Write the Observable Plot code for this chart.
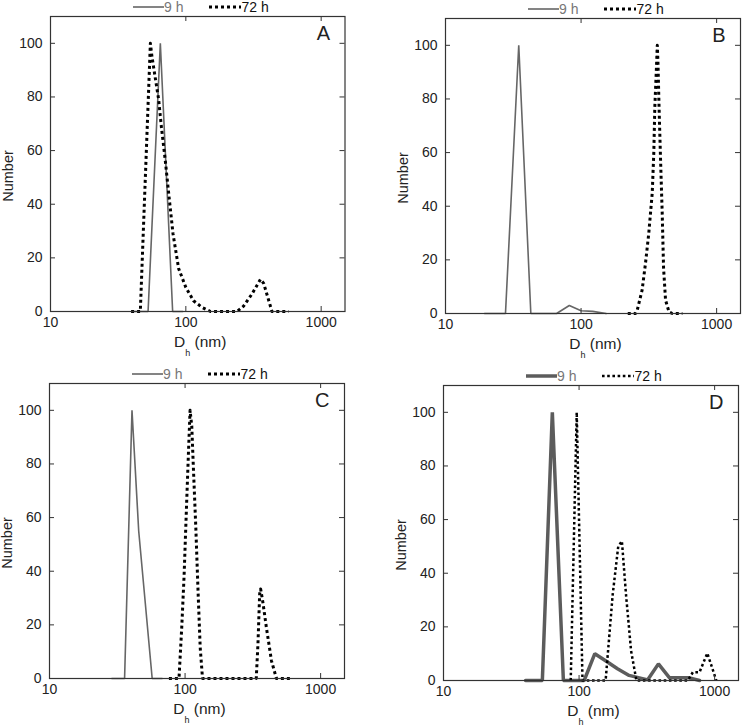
<!DOCTYPE html>
<html>
<head>
<meta charset="utf-8">
<script src="https://cdn.jsdelivr.net/npm/d3@7"></script>
<script src="https://cdn.jsdelivr.net/npm/@observablehq/plot@0.6"></script>
<style>
  body { margin: 0; background: #fff; }
  #root { position: relative; width: 743px; height: 726px; overflow: hidden; background: #fff;
          font-family: "Liberation Sans", Arial, sans-serif; color: #222; }
  .plotwrap { position: absolute; }
  .legend { position: absolute; display: flex; align-items: center; font-size: 14px; height: 14px;
            line-height: 14px; white-space: nowrap; }
  .legend svg { display: block; }
  .xl { position: absolute; width: 120px; text-align: center; font-size: 15.5px; line-height: 15px; color: #222; white-space: nowrap; }
  .xl .sub { font-size: 9px; position: relative; top: 9px; }
  .yl { position: absolute; font-size: 14.5px; line-height: 15px; white-space: nowrap; color: #222;
        transform: translate(-50%, -50%) rotate(-90deg); }
</style>
</head>
<body>
<div id="root"></div>
<script>
// ---- shared axis values ----
const yTicks = [0, 20, 40, 60, 80, 100];
const xTicks = [10, 100, 1000];
const xTickLabels = ["10", "100", "1000"];
const seriesNames = ["9 h", "72 h"];
const panelLetters = ["A", "B", "C", "D"];
const yTitle = "Number";

// ---- Panel A ----
const a9x  = [40, 52.6, 64.8, 79.9, 95];
const a9y  = [0, 0, 100, 0, 0];
const a72x = [39.4, 46.1, 54.7, 56.2, 59.5, 63, 65.9, 70.6, 74.7, 80.4, 88.5, 100, 114, 132, 152, 239, 267, 308, 356, 376, 433, 575];
const a72y = [0, 0, 100, 95, 87, 79, 69, 56, 44, 29, 16, 9, 4, 1.5, 0, 0, 2, 6.5, 12, 10.5, 0, 0];

// ---- Panel B ----
const b9x  = [19.4, 27.7, 34.7, 42.6, 66, 81.9, 100, 122, 153];
const b9y  = [0, 0, 100, 0, 0, 3, 1, 0.8, 0];
const b72x = [221, 252, 259, 282, 298.5, 316, 335, 344, 350, 360, 365, 369, 377, 386, 397, 406, 420, 445, 471, 559];
const b72y = [0, 0, 1, 8.7, 18.6, 30, 45, 60, 77, 92, 100, 94, 75, 57, 37, 17, 5, 0.6, 0, 0];

// ---- Panel C ----
const c9x  = [28.8, 35.8, 40.6, 45.5, 57.2, 67.8];
const c9y  = [0, 0, 100, 55, 0, 0];
const c72x = [76, 90.2, 94.5, 98.3, 102.3, 105.9, 108.9, 112.1, 115.3, 120.1, 124.9, 129.3, 134.5, 335, 345, 355, 361, 376, 398, 434, 472, 593];
const c72y = [0, 0, 19, 38, 63, 84, 100, 94, 78, 56, 31.5, 11.6, 0, 0, 13, 31.5, 33.4, 28, 19, 6.6, 0, 0];

// ---- Panel D ----
const d9x  = [40.3, 53.6, 63.5, 76.6, 109, 130.7, 162, 192, 234, 321, 385, 465, 653, 774];
const d9y  = [0, 0, 100, 0, 0, 10, 6.9, 4.4, 1.9, 0.25, 6.2, 1, 1, 0];
const d72x = [86.8, 96.1, 106, 157, 177, 194.5, 207, 222, 242, 265, 635, 691, 774, 883, 1029];
const d72y = [0, 100, 0, 0, 32, 50, 52, 32, 11, 0, 0, 3.1, 3.1, 10.2, 0];

// ---- layout / style (not data) ----
const panels = [
  {letter: panelLetters[0], x9: a9x, y9: a9y, x72: a72x, y72: a72y, w9: 1.6, w72: 3, dash: "3,3", left: 0,   top: 0,   ml: 50, width: 370, mr: 25.5},
  {letter: panelLetters[1], x9: b9x, y9: b9y, x72: b72x, y72: b72y, w9: 1.6, w72: 3, dash: "3,3", left: 395, top: 2,   ml: 50, width: 348, mr: 3},
  {letter: panelLetters[2], x9: c9x, y9: c9y, x72: c72x, y72: c72y, w9: 1.6, w72: 3, dash: "3,3", left: 0,   top: 367, ml: 49, width: 370, mr: 26},
  {letter: panelLetters[3], x9: d9x, y9: d9y, x72: d72x, y72: d72y, w9: 3.5, w72: 2.5, dash: "2.6,2.6", left: 393, top: 369, ml: 50, width: 350, mr: 5}
];

const MT = 16, FH = 295, MB = 30;
const root = document.getElementById("root");
const frameColor = "#333";
const gray = "#666";

for (const p of panels) {
  const fw = p.width - p.ml - p.mr;
  const d9 = p.x9.map((x, i) => ({x, y: p.y9[i]}));
  const d72 = p.x72.map((x, i) => ({x, y: p.y72[i]}));
  const plot = Plot.plot({
    width: p.width,
    height: MT + FH + MB,
    marginLeft: p.ml, marginRight: p.mr, marginTop: MT, marginBottom: MB,
    x: {type: "log", domain: [10, 1500]},
    y: {domain: [0, 110]},
    style: {fontFamily: '"Liberation Sans", Arial, sans-serif', fontSize: "14px", color: "#222", background: "transparent", overflow: "visible"},
    marks: [
      Plot.line(d9, {x: "x", y: "y", stroke: p.w9 > 2 ? "#5c5c5c" : gray, strokeWidth: p.w9, strokeLinejoin: "miter"}),
      Plot.line(d72, {x: "x", y: "y", stroke: "#000", strokeWidth: p.w72, strokeDasharray: p.dash, strokeLinecap: "butt"}),
      Plot.tickY(yTicks, {y: d => d, insetRight: fw - 5, stroke: frameColor}),
      Plot.tickY(yTicks, {y: d => d, insetLeft: fw - 5, stroke: frameColor}),
      Plot.tickX(xTicks, {x: d => d, insetTop: FH - 5, stroke: frameColor}),
      Plot.tickX(xTicks, {x: d => d, insetBottom: FH - 5, stroke: frameColor}),
      Plot.frame({stroke: frameColor, strokeWidth: 1.2}),
      Plot.axisY(yTicks, {tickSize: 0, tickPadding: 8, label: null, fontSize: 14}),
      Plot.axisX(xTicks, {tickSize: 0, tickPadding: 6, label: null, fontSize: 14, tickFormat: d => xTickLabels[xTicks.indexOf(d)]}),
      Plot.text([p.letter], {text: d => d, frameAnchor: "top-right", dx: -15, dy: 9.5, lineAnchor: "top", textAnchor: "end", fontSize: 20})
    ]
  });
  const wrap = document.createElement("div");
  wrap.className = "plotwrap";
  wrap.style.left = p.left + "px";
  wrap.style.top = p.top + "px";
  wrap.appendChild(plot);
  root.appendChild(wrap);

  const frameLeft = p.left + p.ml;
  const frameTop = p.top + MT;
  const frameBottom = frameTop + FH;

  // y axis title (rotated)
  const yl = document.createElement("div");
  yl.className = "yl";
  yl.style.left = (frameLeft - 42) + "px";
  yl.style.top = (frameBottom - FH * 50.5 / 110) + "px";
  yl.textContent = yTitle;
  root.appendChild(yl);

  // legend
  const lg = document.createElement("div");
  lg.className = "legend";
  lg.style.left = (frameLeft + 83) + "px";
  lg.style.top = (frameTop - 9.5 - 7) + "px";
  lg.innerHTML =
    `<svg width="31" height="8"><line x1="0" y1="4" x2="31" y2="4" stroke="${p.w9 > 2 ? "#5c5c5c" : gray}" stroke-width="${p.w9}"/></svg>` +
    `<span style="color:#777">${seriesNames[0]}</span>` +
    `<svg width="32" height="8" style="margin-left:26px"><line x1="0" y1="4" x2="32" y2="4" stroke="#000" stroke-width="${p.w72}" stroke-dasharray="${p.dash}"/></svg>` +
    `<span style="color:#111">${seriesNames[1]}</span>`;
  root.appendChild(lg);

  // x axis title with subscript
  const xl = document.createElement("div");
  xl.className = "xl";
  xl.style.left = (frameLeft + fw / 2 + 3 - 60) + "px";
  xl.style.top = (frameBottom + 23) + "px";
  xl.innerHTML = `D<span class="sub">h</span> (nm)`;
  root.appendChild(xl);
}
</script>
</body>
</html>
